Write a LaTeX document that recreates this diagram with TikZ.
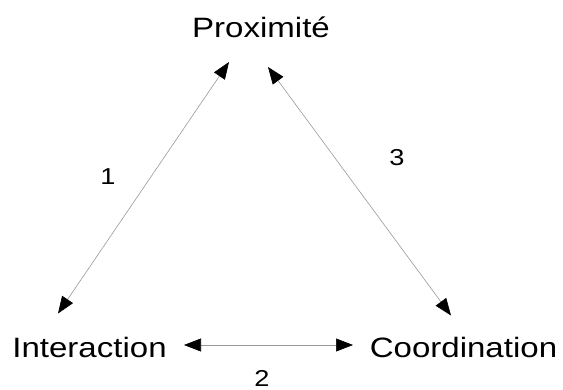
\documentclass[tikz,border=0pt]{standalone}
\usepackage{fontspec}
\setmainfont[FakeStretch=1.18]{Liberation Sans}
\usetikzlibrary{arrows.meta,calc}
\begin{document}
\begin{tikzpicture}[
  x=1pt, y=-1pt,
  v/.style={inner sep=0pt, anchor=base, font=\fontsize{28}{30}\selectfont},
  n/.style={inner sep=0pt, font=\fontsize{23}{25}\selectfont},
  e/.style={draw=black!40, line width=0.6pt,
    {Triangle[length=17pt,width=13pt,color=black]}-{Triangle[length=17pt,width=13pt,color=black]}}
]
\useasboundingbox (0,0) rectangle (563,390);
\node[v] (p) at (261,38) {Proximité};
\node[v] (i) at (89.5,357.5) {Interaction};
\node[v] (c) at (463.5,357.5) {Coordination};

\node[n] (n1) at (108,177) {1};
\node[n] (n2) at (262,378.5) {2};
\node[n] (n3) at (397,158) {3};

\draw[e] ($(p.base)+(-32,24)$) -- ($(i.base)+(-31.5,-44)$);
\draw[e] ($(i.base)+(94.5,-12.5)$) -- ($(c.base)+(-110.5,-12.5)$);
\draw[e] ($(p.base)+(7,29)$) -- ($(c.base)+(-12.5,-42)$);
\end{tikzpicture}
\end{document}
